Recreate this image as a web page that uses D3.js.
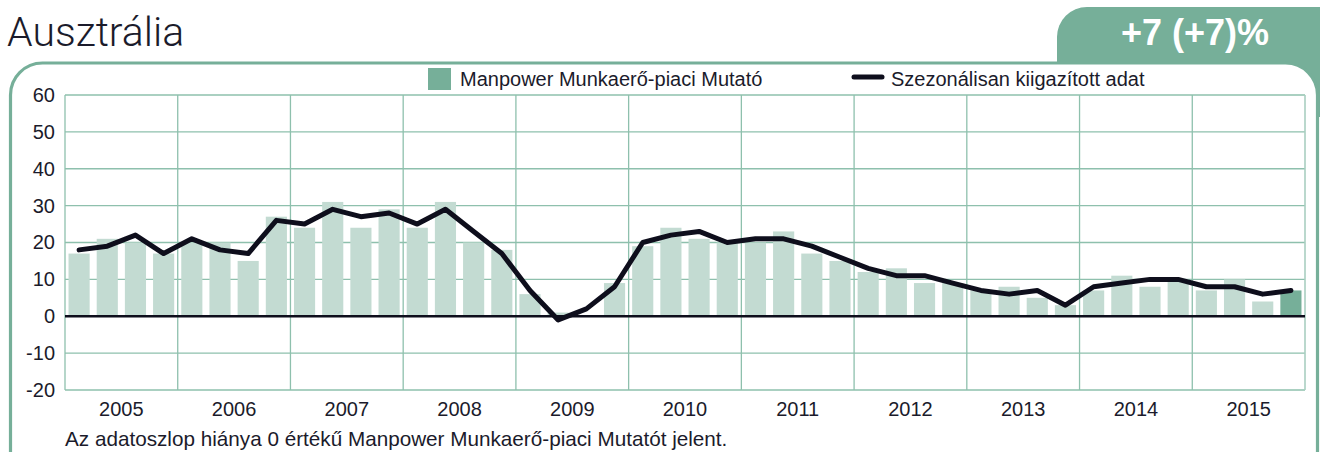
<!DOCTYPE html>
<html>
<head>
<meta charset="utf-8">
<script src="https://cdn.jsdelivr.net/npm/d3@7"></script>
<style>
  html, body { margin: 0; padding: 0; background: #fff; }
  svg { display: block; }
  text { font-family: "Liberation Sans", Arial, Helvetica, sans-serif; fill: #1b1b2b; }
</style>
</head>
<body>
<svg id="chart" width="1320" height="452"></svg>
<script>
// ---- data ----
const countryName = "Ausztrália";
const currentOutlook = "+7 (+7)%";
const years = ["2005", "2006", "2007", "2008", "2009", "2010", "2011", "2012", "2013", "2014", "2015"];
const quarters = years.flatMap(y => ["Q1", "Q2", "Q3", "Q4"].map(q => y + " " + q));

// Net Employment Outlook per quarter (bars)
const outlookValues = [
  17, 21, 20, 17,   // 2005
  20, 20, 15, 27,   // 2006
  24, 31, 24, 29,   // 2007
  24, 31, 20, 18,   // 2008
   6,  1,  0,  9,   // 2009
  19, 24, 21, 20,   // 2010
  20, 23, 17, 15,   // 2011
  12, 13,  9,  9,   // 2012
   7,  8,  5,  3,   // 2013
   7, 11,  8, 10,   // 2014
   7, 10,  4,  7    // 2015
];

// Seasonally adjusted series (line)
const seasonalValues = [
  18, 19, 22, 17,
  21, 18, 17, 26,
  25, 29, 27, 28,
  25, 29, 23, 17,
   7, -1,  2,  8,
  20, 22, 23, 20,
  21, 21, 19, 16,
  13, 11, 11,  9,
   7,  6,  7,  3,
   8,  9, 10, 10,
   8,  8,  6,  7
];

const yTicks = [-20, -10, 0, 10, 20, 30, 40, 50, 60];
const legendLabels = ["Manpower Munkaerő-piaci Mutató", "Szezonálisan kiigazított adat"];
const footnote = "Az adatoszlop hiánya 0 értékű Manpower Munkaerő-piaci Mutatót jelent.";

// ---- colours ----
const green = "#76af99";
const barLight = "#c3dbd2";
const gridColor = "#8ec0ad";
const ink = "#0e0e1c";

const svg = d3.select("#chart");

// ---- frame and badge ----
svg.append("rect")
  .attr("x", 1057).attr("y", 7)
  .attr("width", 300).attr("height", 110)
  .attr("rx", 30)
  .attr("fill", green);

svg.append("rect")
  .attr("x", 10.5).attr("y", 63)
  .attr("width", 1307).attr("height", 420)
  .attr("rx", 32)
  .attr("fill", "#fff")
  .attr("stroke", green)
  .attr("stroke-width", 3.2);

svg.append("text")
  .attr("x", 7).attr("y", 46)
  .style("font-family", "Roboto, 'Liberation Sans', sans-serif")
  .style("font-weight", 300)
  .style("font-size", "41px")
  .text(countryName);

svg.append("text")
  .attr("x", 1195).attr("y", 45)
  .attr("text-anchor", "middle")
  .style("font-weight", "bold")
  .style("font-size", "36px")
  .style("fill", "#fff")
  .text(currentOutlook);

// ---- scales ----
const plot = { left: 65, right: 1305, top: 95, bottom: 390 };

const x = d3.scaleBand()
  .domain(quarters)
  .range([plot.left, plot.right])
  .paddingInner(0.25)
  .paddingOuter(0.125);

const xYear = d3.scaleBand()
  .domain(years)
  .range([plot.left, plot.right])
  .padding(0);

const y = d3.scaleLinear()
  .domain([-20, 60])
  .range([plot.bottom, plot.top]);

// ---- grid ----
const grid = svg.append("g");
grid.selectAll(".hgrid")
  .data(yTicks)
  .join("line")
  .attr("x1", plot.left).attr("x2", plot.right)
  .attr("y1", d => y(d)).attr("y2", d => y(d))
  .attr("stroke", gridColor)
  .attr("stroke-width", 1.3);

grid.selectAll(".vgrid")
  .data(years)
  .join("line")
  .attr("x1", d => xYear(d)).attr("x2", d => xYear(d))
  .attr("y1", plot.top).attr("y2", plot.bottom)
  .attr("stroke", gridColor)
  .attr("stroke-width", 1.3);

grid.append("line")
  .attr("x1", plot.right).attr("x2", plot.right)
  .attr("y1", plot.top).attr("y2", plot.bottom)
  .attr("stroke", "#a9cfc1")
  .attr("stroke-width", 1.6);

// ---- y axis labels ----
const yAxis = d3.axisLeft(y)
  .tickValues(yTicks)
  .tickFormat(d => String(d))
  .tickSize(0)
  .tickPadding(10);
svg.append("g")
  .attr("transform", `translate(${plot.left},0)`)
  .call(yAxis)
  .call(g => g.select(".domain").remove())
  .call(g => g.selectAll("text")
    .style("font-family", "'Liberation Sans', Arial, sans-serif")
    .style("font-size", "20px")
    .attr("fill", "#1b1b2b"));

// ---- x axis year labels ----
const xAxis = d3.axisBottom(xYear).tickSize(0).tickPadding(12);
svg.append("g")
  .attr("transform", `translate(0,${plot.bottom})`)
  .call(xAxis)
  .call(g => g.select(".domain").remove())
  .call(g => g.selectAll("text")
    .style("font-family", "'Liberation Sans', Arial, sans-serif")
    .style("font-size", "20px")
    .attr("fill", "#1b1b2b"));

// ---- bars ----
const lastIndex = quarters.length - 1;
svg.append("g")
  .selectAll("rect")
  .data(quarters.map((q, i) => ({ q, v: outlookValues[i], i })))
  .join("rect")
  .attr("x", d => x(d.q))
  .attr("width", x.bandwidth())
  .attr("y", d => y(Math.max(0, d.v)))
  .attr("height", d => Math.abs(y(d.v) - y(0)))
  .attr("fill", d => d.i === lastIndex ? green : barLight);

// ---- zero line ----
svg.append("line")
  .attr("x1", plot.left).attr("x2", plot.right)
  .attr("y1", y(0)).attr("y2", y(0))
  .attr("stroke", ink)
  .attr("stroke-width", 2.6);

// ---- seasonally adjusted line ----
const line = d3.line()
  .x((d, i) => x(quarters[i]) + x.bandwidth() / 2)
  .y(d => y(d));

svg.append("path")
  .datum(seasonalValues)
  .attr("d", line)
  .attr("fill", "none")
  .attr("stroke", ink)
  .attr("stroke-width", 5)
  .attr("stroke-linejoin", "round")
  .attr("stroke-linecap", "round");

// ---- legend ----
const legend = svg.append("g");
legend.append("rect")
  .attr("x", 428).attr("y", 68)
  .attr("width", 23).attr("height", 22)
  .attr("fill", green);
legend.append("text")
  .attr("x", 460).attr("y", 86)
  .style("font-size", "20px")
  .text(legendLabels[0]);
legend.append("line")
  .attr("x1", 854).attr("x2", 882)
  .attr("y1", 77).attr("y2", 77)
  .attr("stroke", ink)
  .attr("stroke-width", 5)
  .attr("stroke-linecap", "round");
legend.append("text")
  .attr("x", 891).attr("y", 86)
  .style("font-size", "20px")
  .text(legendLabels[1]);

// ---- footnote ----
svg.append("text")
  .attr("x", 65).attr("y", 446)
  .style("font-size", "20.7px")
  .text(footnote);
</script>
</body>
</html>
